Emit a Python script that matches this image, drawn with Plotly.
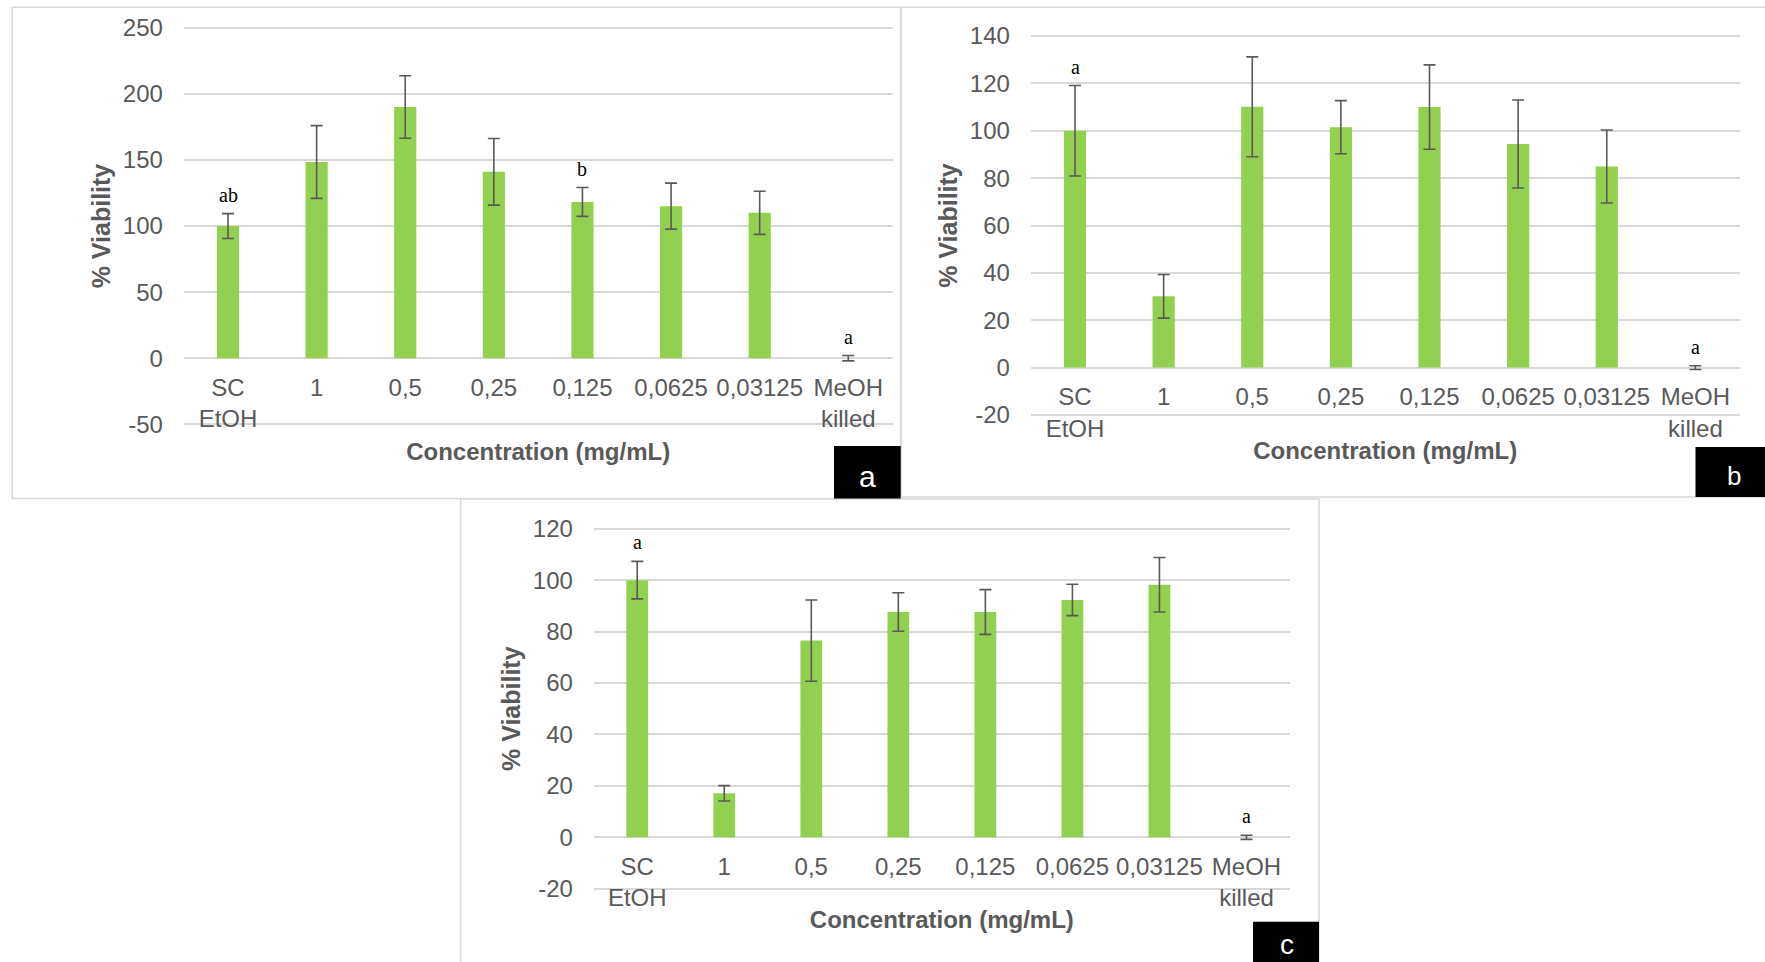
import plotly.graph_objects as go

# ---------------- data ----------------
categories = ["SC<br>EtOH", "1", "0,5", "0,25", "0,125", "0,0625", "0,03125", "MeOH<br>killed"]

viability_a = [100, 148.4, 190, 141, 118.2, 115, 110, 0]
error_a = [9.4, 27.5, 23.6, 25.2, 10.9, 17.4, 16.3, 2]
letters_a = ["ab", "", "", "", "b", "", "", "a"]
yticks_a = [-50, 0, 50, 100, 150, 200, 250]

viability_b = [100, 30.1, 110.1, 101.5, 110, 94.4, 84.9, 0]
error_b = [19.1, 9.2, 21.1, 11.2, 17.8, 18.6, 15.4, 0.8]
letters_b = ["a", "", "", "", "", "", "", "a"]
yticks_b = [-20, 0, 20, 40, 60, 80, 100, 120, 140]

viability_c = [100, 17.1, 76.5, 87.6, 87.6, 92.3, 98.2, 0]
error_c = [7.3, 3, 15.8, 7.5, 8.7, 6.1, 10.6, 0.8]
letters_c = ["a", "", "", "", "", "", "", "a"]
yticks_c = [-20, 0, 20, 40, 60, 80, 100, 120]

panel_tags = ["a", "b", "c"]
y_title = "% Viability"
x_title = "Concentration (mg/mL)"

# ---------------- layout geometry (pixels) ----------------
W, H = 1765, 962
# plot area: x_left, x_right, y of top gridline, y of bottom gridline
geom = [
    (183.7, 892.6, 27.7, 424.3),
    (1030.7, 1739.7, 36.0, 415.0),
    (593.7, 1290.0, 528.7, 888.7),
]
xtitle_standoff = [11, 1, 0]
panel_boxes = [
    (12.3, 7.3, 900.7, 498.5),
    (901.0, 7.3, 1775, 497.0),
    (460.7, 499.0, 1319.0, 975),
]
tag_boxes = [
    (834.0, 446.0, 900.7, 498.5, 867, 476, 30),
    (1695.5, 447.0, 1775, 497.0, 1734, 476, 26),
    (1253.0, 921.7, 1319.0, 975, 1287, 944, 28),
]

GREEN = "#92D050"
GRAY_TXT = "#595959"
GRID = "#D9D9D9"
FONT = "Liberation Sans"

def px(x):
    return x / W

def py(y):
    return 1 - y / H

fig = go.Figure()
series = [
    (viability_a, error_a, letters_a, yticks_a),
    (viability_b, error_b, letters_b, yticks_b),
    (viability_c, error_c, letters_c, yticks_c),
]

annotations = []
shapes = []

for i, (vals, errs, lets, yt_vals) in enumerate(series):
    sfx = "" if i == 0 else str(i + 1)
    xa, ya = "x" + sfx, "y" + sfx
    fig.add_trace(go.Bar(
        x=categories, y=vals, width=0.25,
        marker=dict(color=GREEN, line=dict(width=0)),
        error_y=dict(type="data", array=errs, visible=True, color=GRAY_TXT, thickness=1.6, width=6),
        xaxis=xa, yaxis=ya, showlegend=False, hoverinfo="x+y",
    ))
    lo, hi = min(yt_vals), max(yt_vals)
    xl, xr, ytop, ybot = geom[i]
    scale = (ybot - ytop) / (hi - lo)
    pad = 1.0
    top = ytop - pad * scale
    bot = ybot + pad * scale
    zero_px = ytop + hi * scale
    fig.layout["xaxis" + sfx] = dict(
        domain=[px(xl), px(xr)], anchor="free", position=py(zero_px),
        type="category", tickangle=0, showgrid=False, zeroline=False, showline=False,
        ticks="outside", ticklen=8, tickcolor="rgba(0,0,0,0)",
        tickfont=dict(family=FONT, size=24, color=GRAY_TXT),
        title=dict(text="<b>" + x_title + "</b>", standoff=xtitle_standoff[i],
                   font=dict(family=FONT, size=24, color=GRAY_TXT)),
        automargin=False, fixedrange=True,
    )
    fig.layout["yaxis" + sfx] = dict(
        domain=[py(bot), py(top)], anchor=xa, range=[lo - pad, hi + pad],
        tickmode="array", tickvals=yt_vals, ticktext=[str(v) for v in yt_vals],
        showgrid=True, gridcolor=GRID, gridwidth=1.6,
        zeroline=False, showline=False,
        ticks="outside", ticklen=15, tickcolor="rgba(0,0,0,0)",
        tickfont=dict(family=FONT, size=24, color=GRAY_TXT),
        title=dict(text="<b>" + y_title + "</b>", standoff=5,
                   font=dict(family=FONT, size=25, color=GRAY_TXT)),
        automargin=False, fixedrange=True,
    )
    for c, v, e, t in zip(categories, vals, errs, lets):
        if t:
            annotations.append(dict(
                x=c, y=v + e, xref=xa, yref=ya, text=t, showarrow=False,
                yanchor="bottom", yshift=6,
                font=dict(family="Liberation Serif", size=20, color="black"),
            ))
    bx0, by0, bx1, by1 = panel_boxes[i]
    shapes.append(dict(type="rect", xref="paper", yref="paper",
                       x0=px(bx0), x1=px(bx1), y0=py(by1), y1=py(by0),
                       line=dict(color=GRID, width=1.6), fillcolor="rgba(0,0,0,0)", layer="below"))

for i, (x0, y0, x1, y1, tx, ty, fs) in enumerate(tag_boxes):
    shapes.append(dict(type="rect", xref="paper", yref="paper",
                       x0=px(x0), x1=px(x1), y0=py(y1), y1=py(y0),
                       line=dict(width=0), fillcolor="black", layer="above"))
    annotations.append(dict(x=px(tx), y=py(ty), xref="paper", yref="paper",
                            text=panel_tags[i], showarrow=False,
                            xanchor="center", yanchor="middle",
                            font=dict(family=FONT, size=fs, color="white")))

fig.update_layout(
    width=W, height=H,
    margin=dict(l=0, r=0, t=0, b=0, autoexpand=False),
    paper_bgcolor="white", plot_bgcolor="rgba(0,0,0,0)",
    shapes=shapes, annotations=annotations,
    bargap=0.75,
)

fig.write_html(
    "out.html",
    config={"displayModeBar": False},
    post_script="document.body.style.margin='0px';document.body.style.overflow='hidden';",
)
